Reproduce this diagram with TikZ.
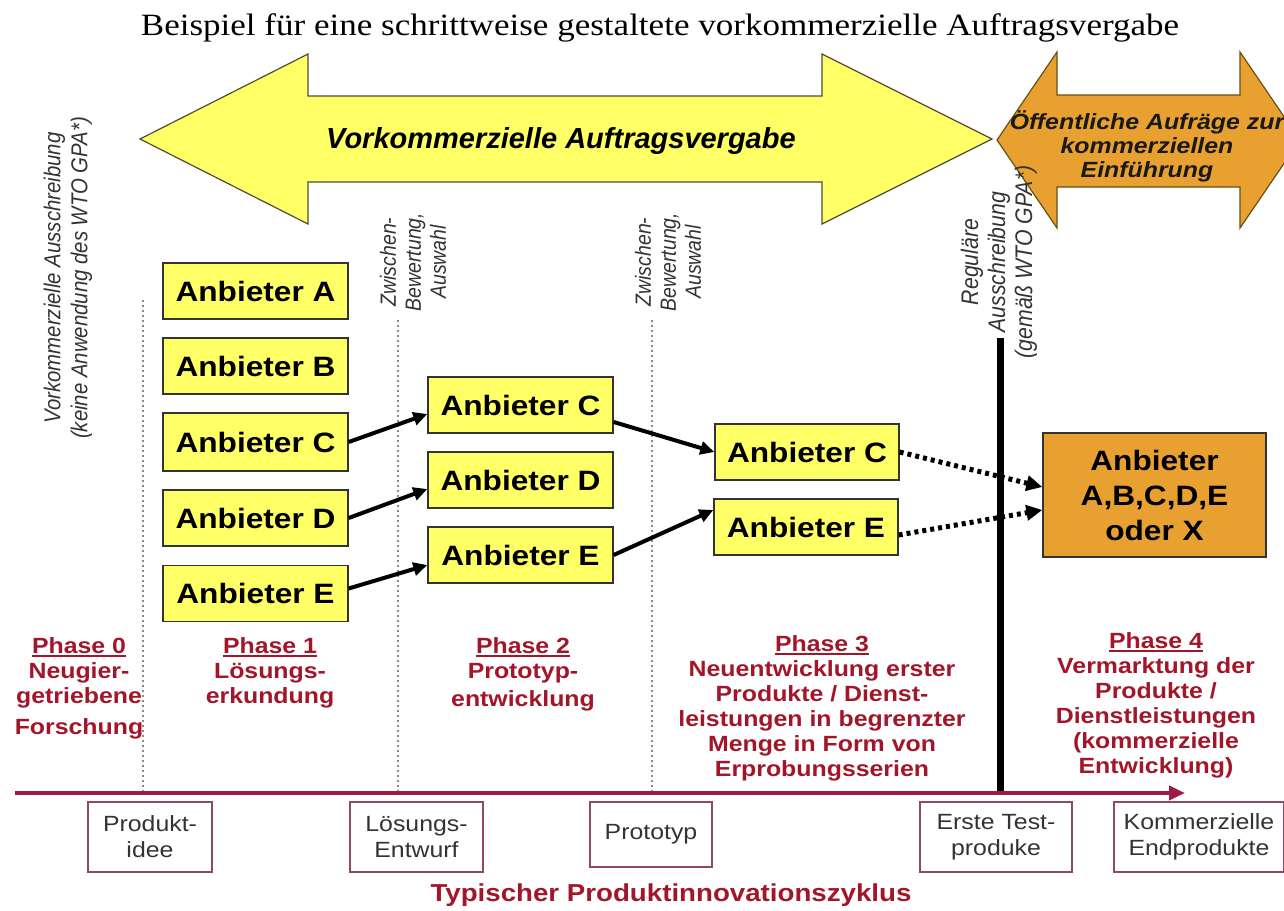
\documentclass[tikz,border=0pt]{standalone}
\usepackage{fontspec}
\setmainfont{Liberation Sans}[FakeStretch=1.13]
\newfontfamily\serifT{Liberation Serif}[FakeStretch=1.13]
\newfontfamily\rotF{Liberation Sans}[FakeStretch=0.885]
\newfontfamily\plainF{Liberation Sans}
\usetikzlibrary{arrows.meta,calc}
\newcommand{\phul}[1]{\leavevmode\setbox0\hbox{#1}\rlap{\vrule height -1.8bp depth 3.8bp width \wd0}\box0}
\definecolor{yel}{HTML}{FFFF66}
\definecolor{yelline}{HTML}{4D4D33}
\definecolor{org}{HTML}{E8A030}
\definecolor{orgline}{HTML}{6B5010}
\definecolor{dred}{HTML}{A3162A}
\definecolor{axisc}{HTML}{9E1B46}
\definecolor{boxc}{HTML}{8C4A66}
\definecolor{txtg}{HTML}{333333}
\definecolor{dotc}{HTML}{8A8A8A}
\begin{document}
\begin{tikzpicture}[x=1bp,y=-1bp,
 abox/.style={draw=black!80, line width=1.3bp, fill=yel, minimum width=185bp, minimum height=56bp, inner sep=0, font=\fontsize{28bp}{32bp}\selectfont\bfseries},
 pbox/.style={draw=boxc, line width=1.2bp, fill=white, minimum height=70bp, inner sep=0, align=center, text=txtg, font=\fontsize{22bp}{26bp}\selectfont},
 phase/.style={anchor=north, align=center, text=dred, inner sep=0, font=\fontsize{22bp}{25bp}\selectfont\bfseries},
 rotlab/.style={rotate=90, align=center, inner sep=0, text=txtg, font=\rotF\itshape\fontsize{22bp}{25bp}\selectfont},
 solidarr/.style={line width=4bp, -{Triangle[length=14bp,width=13bp]}},
 dotarr/.style={line width=5bp, dash pattern=on 4bp off 4bp, -{Triangle[length=16bp,width=15bp]}},
 sepline/.style={draw=dotc, line width=2bp, dash pattern=on 2bp off 3bp},
 yarrow/.style={fill=yel, draw=yelline, line width=1.2bp, line join=miter},
 oarrow/.style={fill=org, draw=orgline, line width=1.2bp, line join=miter},
]
\useasboundingbox (0,0) rectangle (1284,911);
\clip (0,0) rectangle (1284,911);
\fill[white] (0,0) rectangle (1284,911);

% title
\node[inner sep=0, text=black, font=\serifT\fontsize{31bp}{33bp}\selectfont] (title) at (660,28) {Beispiel für eine schrittweise gestaltete vorkommerzielle Auftragsvergabe};

% big arrows
\draw[yarrow] (140,139) -- (308,54) -- (308,96) -- (822,96) -- (822,54) -- (992,139) -- (822,224) -- (822,182) -- (308,182) -- (308,224) -- cycle;
\node[inner sep=0, font=\plainF\bfseries\itshape\fontsize{29bp}{32bp}\selectfont] (va) at (561,141) {Vorkommerzielle Auftragsvergabe};
\draw[oarrow] (997,140) -- (1057,52) -- (1057,95) -- (1240,95) -- (1240,52) -- (1300,140) -- (1240,228) -- (1240,187) -- (1057,187) -- (1057,228) -- cycle;
\node[inner sep=0, align=center, text=black!90, font=\bfseries\itshape\fontsize{22bp}{24bp}\selectfont] (oa) at (1147,146) {Öffentliche Aufräge zur\\kommerziellen\\Einführung};

% separators
\coordinate (s0t) at (143,300); \coordinate (s0b) at (143,793);
\coordinate (s1t) at (398,320); \coordinate (s1b) at (398,793);
\coordinate (s2t) at (652,320); \coordinate (s2b) at (652,793);
\draw[sepline] (s0t) -- (s0b);
\draw[sepline] (s1t) -- (s1b);
\draw[sepline] (s2t) -- (s2b);
\coordinate (rgt) at (1000,338); \coordinate (rgb) at (1000,793);
\draw[line width=7bp, black] (rgt) -- (rgb);

% rotated labels
\node[rotlab, font=\rotF\itshape\fontsize{23bp}{27bp}\selectfont] (vl) at (68,278) {Vorkommerzielle Ausschreibung\\(keine Anwendung des WTO GPA*)};
\node[rotlab] (z1) at (413,262) {Zwischen-\\Bewertung,\\Auswahl};
\node[rotlab] (z2) at (668,262) {Zwischen-\\Bewertung,\\Auswahl};
\node[rotlab, font=\rotF\itshape\fontsize{24bp}{27bp}\selectfont] (rg) at (999,262) {Reguläre\\Ausschreibung\\(gemäß WTO GPA*)};

% supplier boxes
\node[abox] (a1) at (255.5,291) {Anbieter A};
\node[abox] (b1) at (255.5,366) {Anbieter B};
\node[abox, minimum height=58bp] (c1) at (255.5,442) {Anbieter C};
\node[abox] (d1) at (255.5,518) {Anbieter D};
\node[abox] (e1) at (255.5,593.5) {Anbieter E};
\node[abox] (c2) at (520.5,405) {Anbieter C};
\node[abox] (d2) at (520.5,480) {Anbieter D};
\node[abox] (e2) at (520.5,555) {Anbieter E};
\node[abox, minimum width=184bp] (c3) at (807,452) {Anbieter C};
\node[abox, minimum width=184bp] (e3) at (806,527) {Anbieter E};
\node[abox, fill=org, minimum width=223bp, minimum height=124bp, align=center, font=\fontsize{28bp}{35bp}\selectfont\bfseries] (ob) at (1154.5,495) {Anbieter\\A,B,C,D,E\\oder X};

% connectors
\draw[solidarr] (c1.east) -- ($(c2.west)+(0,9)$);
\draw[solidarr] (d1.east) -- ($(d2.west)+(0,9)$);
\draw[solidarr] ($(e1.east)+(0,-5)$) -- ($(e2.west)+(0,10)$);
\draw[solidarr] ($(c2.east)+(0,17)$) -- (c3.west);
\draw[solidarr] (e2.east) -- ($(e3.west)+(0,-17)$);
\draw[dotarr] (c3.east) -- ($(ob.west)+(0,-8)$);
\draw[dotarr] ($(e3.east)+(0,8)$) -- ($(ob.west)+(0,15)$);

% phases
\node[phase] (ph0) at (79,637) {\phul{Phase 0}\\Neugier-\\getriebene\\[6bp]Forschung};
\node[phase] (ph1) at (270,637) {\phul{Phase 1}\\Lösungs-\\erkundung};
\node[phase] (ph2) at (523,637) {\phul{Phase 2}\\Prototyp-\\[3bp]entwicklung};
\node[phase] (ph3) at (822,635) {\phul{Phase 3}\\Neuentwicklung erster\\Produkte / Dienst-\\leistungen in begrenzter\\Menge in Form von\\Erprobungsserien};
\node[phase] (ph4) at (1156,632) {\phul{Phase 4}\\Vermarktung der\\Produkte /\\Dienstleistungen\\(kommerzielle\\Entwicklung)};

% axis
\coordinate (axS) at (15,793); \coordinate (axE) at (1185,793);
\draw[axisc, line width=4bp, -{Triangle[length=16bp,width=14bp]}] (axS) -- (axE);

% product stages
\node[pbox, minimum width=124bp] (p0) at (150,837) {Produkt-\\idee};
\node[pbox, minimum width=133bp] (p1) at (416.5,837) {Lösungs-\\Entwurf};
\node[pbox, minimum width=122bp, minimum height=65bp] (p2) at (651,834.5) {Prototyp};
\node[pbox, minimum width=152bp] (p3) at (996,837) {Erste Test-\\produke};
\node[pbox, minimum width=170bp] (p4) at (1199,837) {Kommerzielle\\Endprodukte};

\node[inner sep=0, text=dred, font=\fontsize{24.5bp}{26bp}\selectfont\bfseries] (bt) at (671,895) {Typischer Produktinnovationszyklus};
\end{tikzpicture}
\end{document}
